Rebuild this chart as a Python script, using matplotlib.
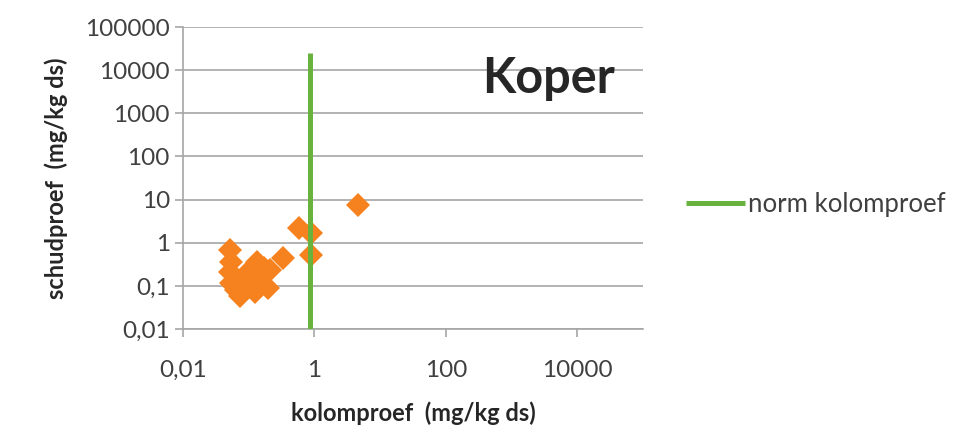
import numpy as np
import matplotlib.pyplot as plt
from matplotlib.ticker import FixedLocator, FuncFormatter, NullLocator

plt.rcParams['font.family'] = ['Lato', 'DejaVu Sans']

# measured points: kolomproef (x) vs schudproef (y), mg/kg ds
kolom = [0.051, 0.053, 0.051, 0.053, 0.063, 0.073, 0.087, 0.104,
         0.132, 0.158, 0.195, 0.123, 0.169, 0.209, 0.329, 0.577,
         0.88, 0.88, 4.56, 0.068, 0.115]
schud = [0.69, 0.363, 0.213, 0.119, 0.082, 0.059, 0.139, 0.237,
         0.363, 0.18, 0.091, 0.073, 0.264, 0.237, 0.45, 2.22,
         1.70, 0.53, 7.6, 0.11, 0.12]

# norm line (vertical)
norm_x = [0.86, 0.86]
norm_y = [0.01, 25000]

yticks = [0.01, 0.1, 1, 10, 100, 1000, 10000, 100000]
xticks = [0.01, 1, 100, 10000]

def fmt(v, pos):
    s = ('%g' % v) if v < 1 else '%d' % v
    return s.replace('.', ',')

fig = plt.figure(figsize=(9.61, 4.26), dpi=100)
ax = fig.add_axes([0.1905, 0.2277, 0.4785, 0.7089])

ax.plot(kolom, schud, linestyle='none', marker='D', markersize=12.5,
        color='#F5821F', markeredgewidth=0, zorder=3)
ax.plot(norm_x, norm_y, color='#6AB23E', linewidth=3.6,
        label='norm kolomproef', zorder=4, solid_capstyle='butt')

ax.set_xscale('log')
ax.set_yscale('log')
ax.set_xlim(0.01, 100000)
ax.set_ylim(0.01, 100000)
ax.xaxis.set_major_locator(FixedLocator(xticks))
ax.yaxis.set_major_locator(FixedLocator(yticks))
ax.xaxis.set_minor_locator(NullLocator())
ax.yaxis.set_minor_locator(NullLocator())
ax.xaxis.set_major_formatter(FuncFormatter(fmt))
ax.yaxis.set_major_formatter(FuncFormatter(fmt))

ax.grid(axis='y', color='#A6A6A6', linewidth=1.2)
ax.set_axisbelow(True)
for s in ['top', 'right']:
    ax.spines[s].set_visible(False)
for s in ['left', 'bottom']:
    ax.spines[s].set_color('#A6A6A6')
    ax.spines[s].set_linewidth(1.2)
ax.tick_params(axis='both', colors='#A6A6A6', labelcolor='#404040',
               labelsize=17.5, length=6, width=1.2, direction='out')
ax.tick_params(axis='x', pad=16)

ax.set_xlabel('kolomproef  (mg/kg ds)', fontsize=17, fontweight='bold',
              color='#262626', labelpad=15)
ax.set_ylabel('schudproef  (mg/kg ds)', fontsize=17, fontweight='bold',
              color='#262626', labelpad=12)

ax.text(0.94, 0.83, 'Koper', transform=ax.transAxes, ha='right',
        va='center', fontsize=35, fontweight='bold', color='#262626')

fig.legend(loc='center left', bbox_to_anchor=(0.69, 0.52), frameon=False,
           fontsize=18.5, handlelength=2.3, handletextpad=0.1,
           labelcolor='#404040')

fig.savefig('out.png', dpi=100)
